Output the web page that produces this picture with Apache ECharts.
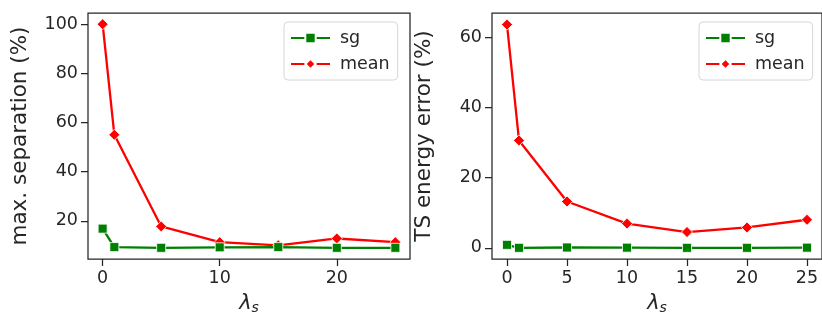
<!DOCTYPE html>
<html>
<head>
<meta charset="utf-8">
<script src="https://cdn.jsdelivr.net/npm/echarts@6/dist/echarts.min.js"></script>
<style>
  html, body { margin: 0; padding: 0; background: #fff; }
  #chart { width: 822px; height: 320px; }
</style>
</head>
<body>
<div id="chart"></div>
<script>
// Smoothing weight λs sampled for both panels
const lambdas = [0, 1, 5, 10, 15, 20, 25];

// Left panel: maximum separation (%)
const sepSg   = [16.8, 9.3, 9.0, 9.2, 9.3, 9.0, 9.0];
const sepMean = [100, 55, 17.7, 11.3, 10.0, 12.8, 11.3];

// Right panel: TS energy error (%)
const tsSg   = [0.85, 0.0, 0.1, 0.05, 0.0, 0.0, 0.05];
const tsMean = [63.6, 30.6, 13.2, 6.9, 4.5, 5.8, 8.0];

// Tick labels
const leftXTicks  = [0, 10, 20];
const leftYTicks  = [20, 40, 60, 80, 100];
const rightXTicks = [0, 5, 10, 15, 20, 25];
const rightYTicks = [0, 20, 40, 60];

const seriesNames = ['sg', 'mean'];
const GREEN = '#008000';
const RED = '#ff0000';
const INK = '#262626';
const FONT = 'DejaVu Sans';

const pairs = (xs, ys) => xs.map((x, i) => [x, ys[i]]);

function xAxis(gridIndex, ticks) {
  return {
    type: 'value', gridIndex, min: -1.25, max: 26.25,
    name: '{l|λ}{s|s}', nameLocation: 'middle', nameGap: 33,
    nameTextStyle: {
      rich: {
        l: { fontFamily: FONT, fontStyle: 'italic', fontSize: 21, color: INK },
        s: { fontFamily: FONT, fontStyle: 'italic', fontSize: 14, color: INK, verticalAlign: 'bottom', padding: [9, 0, 0, 0] }
      }
    },
    axisLine: { show: false, onZero: false },
    splitLine: { show: false },
    axisTick: { show: true, customValues: ticks, length: 7, lineStyle: { color: INK, width: 1.25 } },
    axisLabel: { customValues: ticks, color: INK, fontFamily: FONT, fontSize: 17.5, margin: 10 }
  };
}

function yAxis(gridIndex, min, max, ticks, name) {
  return {
    type: 'value', gridIndex, min, max,
    name, nameLocation: 'middle', nameGap: 57, nameRotate: 90,
    nameTextStyle: { fontFamily: FONT, fontSize: 21.5, color: INK },
    axisLine: { show: false, onZero: false },
    splitLine: { show: false },
    axisTick: { show: true, customValues: ticks, length: 7, lineStyle: { color: INK, width: 1.25 } },
    axisLabel: { customValues: ticks, color: INK, fontFamily: FONT, fontSize: 17.5, margin: 10 }
  };
}

function lineSeries(name, data, xi, yi) {
  const isSg = name === 'sg';
  return {
    name, type: 'line', xAxisIndex: xi, yAxisIndex: yi, data,
    symbol: isSg ? 'rect' : 'diamond',
    symbolSize: isSg ? 9 : 11,
    color: isSg ? GREEN : RED,
    lineStyle: { width: 2.3, color: isSg ? GREEN : RED },
    itemStyle: { color: isSg ? GREEN : RED, borderColor: '#ffffff', borderWidth: 0.8 },
    emphasis: { disabled: true },
    animation: false,
    z: isSg ? 3 : 2
  };
}

function legend(left) {
  return {
    data: seriesNames, left, top: 22, orient: 'vertical',
    backgroundColor: '#ffffff', borderColor: '#d6d6d6', borderWidth: 1, borderRadius: 4,
    padding: [7, 8, 7, 6], itemGap: 8, itemWidth: 39, itemHeight: 13,
    textStyle: { fontFamily: FONT, fontSize: 17.5, color: INK, padding: [0, 0, 0, 5] }
  };
}

const chart = echarts.init(document.getElementById('chart'), null, { renderer: 'canvas' });
chart.setOption({
  animation: false,
  backgroundColor: '#ffffff',
  grid: [
    { left: 88, top: 13, width: 322, height: 246, show: true, borderColor: INK, borderWidth: 1.25, backgroundColor: 'transparent' },
    { left: 492, top: 13, width: 334, height: 246, show: true, borderColor: INK, borderWidth: 1.25, backgroundColor: 'transparent' }
  ],
  xAxis: [xAxis(0, leftXTicks), xAxis(1, rightXTicks)],
  yAxis: [
    yAxis(0, 4.45, 104.55, leftYTicks, 'max. separation (%)'),
    yAxis(1, -3.18, 66.9, rightYTicks, 'TS energy error (%)')
  ],
  legend: [
    Object.assign(legend(284), { id: 'lg0' }),
    Object.assign(legend(699), { id: 'lg1' })
  ],
  series: [
    lineSeries('sg', pairs(lambdas, sepSg), 0, 0),
    lineSeries('mean', pairs(lambdas, sepMean), 0, 0),
    lineSeries('sg', pairs(lambdas, tsSg), 1, 1),
    lineSeries('mean', pairs(lambdas, tsMean), 1, 1)
  ]
});
</script>
</body>
</html>
